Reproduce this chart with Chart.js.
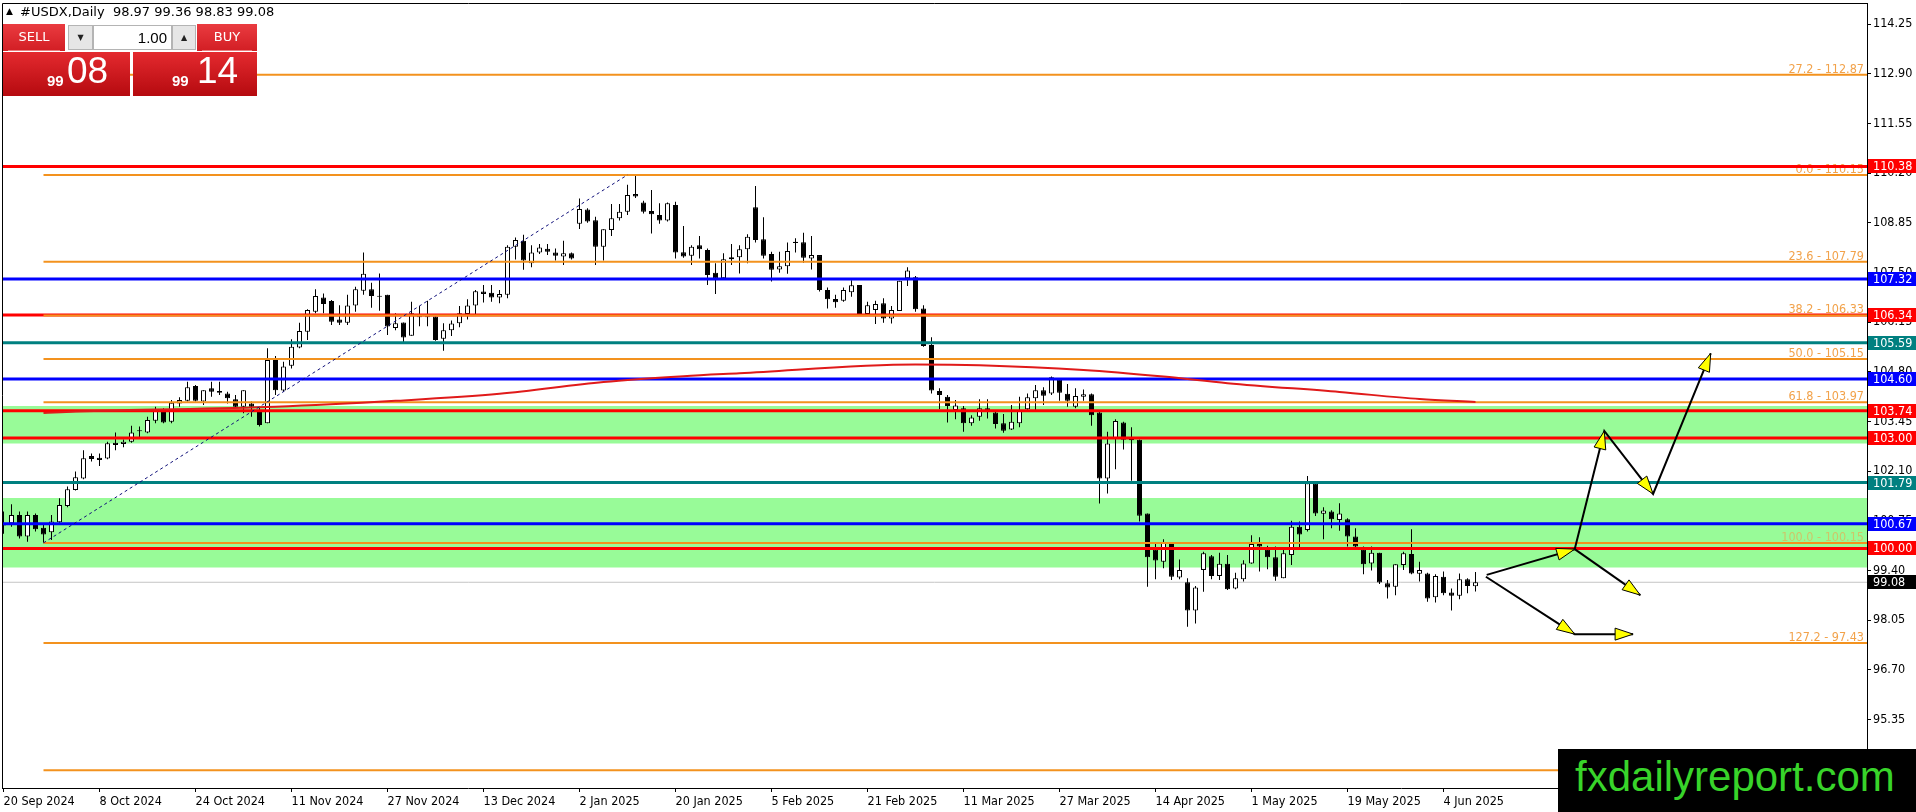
<!DOCTYPE html>
<html>
<head>
<meta charset="utf-8">
<script src="https://cdn.jsdelivr.net/npm/chart.js@4.4.1/dist/chart.umd.min.js"></script>
<style>
html,body{margin:0;padding:0;background:#fff;overflow:hidden;}
#wrap{position:relative;width:1916px;height:812px;}
#wrap canvas{display:block;}
#title{position:absolute;left:6px;top:5px;font:13px/14px "DejaVu Sans";color:#000;white-space:pre;}
#title .tri{font-size:9px;position:relative;top:-2px;margin-right:3px;}
.abs{position:absolute;box-sizing:border-box;}
.redTop{background:linear-gradient(#ea3b40,#d21e24);color:#fff;font:13px "DejaVu Sans";text-align:center;line-height:26px;}
.redTop:after{content:"";position:absolute;left:5px;right:5px;bottom:0;height:1px;background:rgba(255,200,200,0.55);}
.spin{background:#e6e6e6;border:1px solid #b4b4b4;font:8px "DejaVu Sans";color:#222;text-align:center;line-height:23px;}
.big{background:linear-gradient(#e42a2f,#b50a0f);color:#fff;font-family:"Liberation Sans",Arial,sans-serif;}
.big .s{position:absolute;font-size:15px;font-weight:bold;bottom:8px;line-height:15px;}
.big .b{position:absolute;font-size:37px;bottom:7px;line-height:37px;}
#wm{position:absolute;left:1558px;top:749px;width:358px;height:63px;background:#000;}
#wm span{position:absolute;left:17px;top:7px;font:42px/42px "Liberation Sans",Arial,sans-serif;color:#38d42a;white-space:nowrap;}
</style>
</head>
<body>
<div id="wrap">
<canvas id="c"></canvas>
<div id="title"><span class="tri">▲</span> #USDX,Daily  98.97 99.36 98.83 99.08</div>
<div class="abs redTop" style="left:3px;top:24px;width:62px;height:27px;">SELL</div>
<div class="abs spin" style="left:68px;top:25px;width:25px;height:25px;">▼</div>
<div class="abs" style="left:93px;top:25px;width:79px;height:25px;background:#fff;border:1px solid #b4b4b4;font:15px/23px 'Liberation Sans',Arial,sans-serif;text-align:right;padding-right:4px;color:#000;">1.00</div>
<div class="abs spin" style="left:172px;top:25px;width:24px;height:25px;">▲</div>
<div class="abs redTop" style="left:197px;top:24px;width:60px;height:27px;">BUY</div>
<div class="abs big" style="left:3px;top:52px;width:127px;height:44px;"><span class="s" style="left:44px;">99</span><span class="b" style="left:64px;">08</span></div>
<div class="abs big" style="left:133px;top:52px;width:124px;height:44px;"><span class="s" style="left:39px;">99</span><span class="b" style="left:64px;">14</span></div>
<div id="wm"><span>fxdailyreport.com</span></div>
</div>
<script>
// ---------- data ----------
const dateLabels = ['20 Sep 2024','8 Oct 2024','24 Oct 2024','11 Nov 2024','27 Nov 2024','13 Dec 2024','2 Jan 2025','20 Jan 2025','5 Feb 2025','21 Feb 2025','11 Mar 2025','27 Mar 2025','14 Apr 2025','1 May 2025','19 May 2025','4 Jun 2025'];
const dateTickIdx = [0,12,24,36,48,60,72,84,96,108,120,132,144,156,168,180];
const priceTicks = [95.35,96.70,98.05,99.40,100.75,102.10,103.45,104.80,106.15,107.50,108.85,110.20,111.55,112.90,114.25];

const opens = [100.62,100.68,100.91,100.32,100.91,100.56,100.44,100.71,101.15,101.59,
101.90,102.51,102.46,102.44,102.87,102.84,102.90,103.18,103.15,103.47,
103.76,103.44,103.94,104.01,104.41,103.99,104.35,104.28,104.21,104.05,
103.85,103.94,103.76,103.40,105.12,104.29,104.96,105.46,105.89,106.43,
106.82,106.72,106.22,106.13,106.60,107.00,107.04,106.86,106.89,105.99,
106.14,105.78,106.30,106.28,106.30,105.70,105.93,106.12,106.37,106.60,
106.98,106.95,106.82,106.89,108.20,108.36,107.75,108.04,108.14,108.04,
107.93,108.02,108.82,109.21,108.92,108.20,108.65,108.97,109.15,109.63,
109.40,109.17,109.06,108.91,109.33,108.05,107.95,108.24,108.11,107.49,
107.34,107.91,107.91,108.13,109.27,108.40,108.00,107.58,107.67,108.33,
108.32,107.88,107.97,107.02,106.78,106.73,106.96,107.16,106.37,106.48,
106.66,106.25,106.45,107.34,107.37,106.52,105.53,104.28,104.12,103.76,
103.81,103.40,103.58,103.81,103.69,103.40,103.23,103.40,103.78,104.08,
104.30,104.21,104.58,104.20,103.85,104.12,104.19,103.69,101.90,102.99,
103.42,102.99,102.95,100.95,99.97,99.64,100.12,99.21,99.08,98.31,
99.41,99.79,99.25,99.58,98.91,99.16,99.59,100.12,99.96,99.76,
99.19,99.82,100.59,100.50,101.77,100.94,101.00,100.77,100.79,100.32,
99.96,99.59,99.88,99.05,98.96,99.55,99.85,99.31,99.32,98.67,
99.23,98.80,98.71,99.16,98.97];
const highs = [101.00,101.20,101.00,101.00,100.95,100.64,100.91,101.36,101.68,102.09,
102.67,102.58,102.58,102.90,103.15,102.96,103.33,103.31,103.58,103.85,
103.81,104.03,104.11,104.53,104.44,104.30,104.53,104.53,104.26,104.17,
104.30,103.99,103.85,105.44,105.23,105.07,105.68,106.13,106.50,107.04,
106.93,106.75,106.61,106.89,107.11,108.04,107.22,107.47,106.89,106.39,
106.14,106.70,106.59,106.73,106.30,106.12,106.19,106.59,106.77,107.02,
107.16,107.16,107.02,108.24,108.45,108.52,108.24,108.27,108.27,108.15,
108.36,108.04,109.51,109.24,109.01,108.67,109.36,109.36,109.88,110.12,
109.45,109.74,109.38,109.40,109.42,108.76,108.24,108.49,108.15,107.75,
108.02,108.27,108.24,108.54,109.85,109.00,108.06,108.06,108.31,108.43,
108.58,108.49,107.97,107.09,106.89,107.09,107.29,107.16,106.70,106.73,
106.80,106.59,107.27,107.64,107.40,106.61,105.74,104.35,104.17,104.03,
103.87,103.62,104.05,104.05,103.72,103.65,103.90,104.12,104.21,104.44,
104.38,104.67,104.62,104.47,104.35,104.32,104.21,103.72,103.17,103.51,
103.44,103.29,102.96,100.95,100.14,100.25,100.14,99.70,99.19,98.98,
99.91,99.82,99.88,99.82,99.34,99.68,100.36,100.30,100.07,100.05,
99.96,100.75,100.73,101.97,101.77,101.12,101.04,101.23,100.82,100.55,
100.05,100.05,99.88,99.14,99.57,99.91,100.52,99.64,99.34,99.30,
99.37,98.91,99.32,99.19,99.36];
const lows = [100.40,100.59,100.27,100.18,100.46,100.15,100.23,100.68,101.12,101.57,
101.88,102.36,102.24,102.42,102.67,102.75,102.87,103.02,103.13,103.40,
103.40,103.40,103.85,103.99,103.99,103.90,104.12,104.17,103.94,103.81,
103.67,103.58,103.31,103.40,104.17,104.26,104.89,105.44,105.66,106.39,
106.39,106.07,106.07,106.07,106.43,106.89,106.54,106.46,105.80,105.93,
105.60,105.78,106.04,106.04,105.64,105.37,105.77,106.01,106.22,106.37,
106.68,106.70,106.66,106.80,107.85,107.57,107.64,108.00,107.97,107.82,
107.70,107.85,108.68,108.85,107.70,107.82,108.49,108.91,109.06,109.52,
109.10,108.56,108.82,108.88,107.88,107.90,107.70,107.88,107.16,106.91,
107.34,107.70,107.47,107.75,108.31,107.88,107.25,107.49,107.46,108.04,
107.76,107.58,106.98,106.52,106.54,106.70,106.84,106.37,106.34,106.10,
106.13,106.11,106.45,107.13,106.43,105.48,104.21,103.78,103.42,103.51,
103.17,103.33,103.47,103.53,103.26,103.14,103.22,103.29,103.76,103.76,
103.90,104.17,104.01,103.85,103.81,104.01,103.33,101.22,101.49,102.15,
102.69,101.84,100.73,98.96,99.16,99.46,99.14,99.16,97.87,97.96,
98.82,99.16,99.14,98.87,98.89,99.10,99.58,99.37,99.43,99.12,
99.19,99.55,100.03,100.46,100.88,100.25,100.55,100.48,100.05,100.03,
99.30,99.40,99.03,98.64,98.73,99.41,99.30,99.10,98.55,98.53,
98.73,98.31,98.62,98.78,98.83];
const closes = [100.68,100.91,100.32,100.91,100.52,100.38,100.73,101.18,101.61,101.93,
102.45,102.43,102.40,102.86,102.81,102.90,103.15,103.20,103.49,103.76,
103.42,103.96,104.03,104.38,104.01,104.30,104.26,104.23,104.08,103.85,
104.30,103.85,103.35,105.12,104.30,104.94,105.48,105.91,106.48,106.86,
106.64,106.16,106.13,106.60,107.04,107.46,106.86,106.84,106.03,106.12,
105.73,106.39,106.28,106.30,105.66,105.93,106.11,106.39,106.60,106.99,
106.91,106.82,106.91,108.20,108.38,107.82,108.04,108.18,108.06,107.95,
108.02,107.88,109.22,108.88,108.20,108.67,108.97,109.15,109.60,109.56,
109.15,109.08,108.91,109.38,108.04,107.93,108.20,108.13,107.43,107.34,
107.86,107.86,108.13,108.47,108.38,107.95,107.57,107.67,108.08,108.30,
107.90,107.97,107.02,106.77,106.69,107.02,107.15,106.37,106.61,106.64,
106.25,106.48,107.27,107.55,106.50,105.50,104.29,104.17,103.87,103.88,
103.40,103.56,103.81,103.72,103.38,103.20,103.44,103.74,104.11,104.30,
104.15,104.65,104.23,104.01,104.14,104.19,103.62,101.90,102.85,103.46,
102.95,102.94,100.89,99.76,99.67,100.16,99.23,99.41,98.31,98.94,
99.87,99.25,99.58,98.89,99.19,99.59,100.12,100.05,99.76,99.23,
99.87,100.59,100.38,101.77,100.95,101.03,100.79,100.95,100.32,100.05,
99.57,99.88,99.07,98.94,99.57,99.87,99.32,99.41,98.64,99.25,
98.78,98.71,99.16,98.98,99.08];

const lastPrice = 99.08;
const srLevels = [110.38,107.32,106.34,105.59,104.60,103.74,103.00,101.79,100.67,100.00];
const srKinds  = ['red','blue','red','teal','blue','red','red','teal','blue','red'];
const fibNames  = ['27.2','0.0','23.6','38.2','50.0','61.8','100.0','127.2','161.8'];
const fibValues = [112.87,110.15,107.79,106.33,105.15,103.97,100.15,97.43,93.97];
const fibStartBar = 5;
const bandTop    = [103.87,101.37];
const bandBottom = [102.85,99.48];
const maBars   = [5,9,34,49,62,75,85,92,114,122,135,145,153,167,177,184];
const maValues = [103.68,103.72,103.85,104.01,104.20,104.52,104.68,104.76,105.00,104.98,104.85,104.67,104.49,104.25,104.06,103.98];
const trendBars   = [5,78];
const trendValues = [100.15,110.15];
const arrowUpBars   = [185.4,196.4,200.1,206.2,213.4];
const arrowUpValues = [99.28,99.98,103.19,101.48,105.30];
const arrowMidBars   = [196.4,204.6];
const arrowMidValues = [99.98,98.73];
const arrowDownBars   = [185.3,196.4,203.7];
const arrowDownValues = [99.23,97.67,97.67];

// ---------- axis ranges / styles ----------
const X_MIN = -0.1875, X_MAX = 232.9375;
const Y_MIN = 93.489, Y_MAX = 114.8207;
const SR_COLORS = {red:'#FF0000', blue:'#0000FF', teal:'#008080'};
const FIB_LINE = '#F3921E', FIB_TEXT = '#F2A24A';
const FAMILY = '"DejaVu Sans Condensed", "DejaVu Sans"';
const FSIZE = 12.5;

const hline = (v, from) => [{x: from, y: v}, {x: X_MAX, y: v}];
const pts = (xs, ys) => xs.map((x, i) => ({x, y: ys[i]}));

const datasets = [];
bandTop.forEach((t, i) => datasets.push({
  type:'line', label:'band'+i, data: hline(t, X_MIN), borderWidth:0, borderColor:'rgba(0,0,0,0)',
  pointRadius:0, fill:{value: bandBottom[i]}, backgroundColor:'#98FB98', order:100
}));
datasets.push({type:'line', label:'last', data: hline(lastPrice, X_MIN), borderColor:'#C4C4C4', borderWidth:1, pointRadius:0, order:95});
datasets.push({type:'bar', label:'wicks', data: lows.map((l, i) => ({x:i, y:[l, highs[i]]})),
  backgroundColor:'#000', borderWidth:0, barThickness:1, grouped:false, inflateAmount:0, order:90});
datasets.push({type:'bar', label:'bodies', data: opens.map((o, i) => ({x:i, y:[o, closes[i]]})),
  backgroundColor: opens.map((o, i) => closes[i] >= o ? '#FFFFFF' : '#000000'),
  borderColor:'#000', borderWidth:1, borderSkipped:false, barThickness:5, minBarLength:1,
  grouped:false, inflateAmount:0, order:89});
srLevels.forEach((v, i) => datasets.push({type:'line', label:'sr'+i, data: hline(v, X_MIN),
  borderColor: SR_COLORS[srKinds[i]], borderWidth:3, pointRadius:0, order:50}));
fibValues.forEach((v, i) => datasets.push({type:'line', label:'fib'+i, data: hline(v, fibStartBar),
  borderColor: FIB_LINE, borderWidth:2, pointRadius:0, order:40}));
datasets.push({type:'line', label:'ma', data: pts(maBars, maValues), borderColor:'#E01A1A', borderWidth:2,
  pointRadius:0, tension:0.4, cubicInterpolationMode:'monotone', order:35});
datasets.push({type:'line', label:'trend', data: pts(trendBars, trendValues), borderColor:'#10107A', borderWidth:1,
  borderDash:[3,3], pointRadius:0, order:30});
[[arrowUpBars, arrowUpValues], [arrowMidBars, arrowMidValues], [arrowDownBars, arrowDownValues]].forEach((a, i) =>
  datasets.push({type:'line', label:'arrow'+i, data: pts(a[0], a[1]), borderColor:'#000', borderWidth:2, pointRadius:0, order:5 - i}));

function drawFibText(chart) {
  const {ctx, chartArea, scales:{y}} = chart;
  ctx.save();
  ctx.font = FSIZE + 'px ' + FAMILY;
  ctx.textAlign = 'right';
  ctx.textBaseline = 'alphabetic';
  fibValues.forEach((v, i) => {
    const py = y.getPixelForValue(v);
    const inBand = bandTop.some((t, k) => v <= t && v >= bandBottom[k]);
    ctx.globalAlpha = inBand ? 0.6 : 1;
    ctx.fillStyle = FIB_TEXT;
    ctx.fillText(fibNames[i] + ' - ' + v.toFixed(2), chartArea.right - 3, py - 2);
  });
  ctx.restore();
}
function drawArrowHeads(chart) {
  const ctx = chart.ctx;
  chart.data.datasets.forEach((ds, di) => {
    if (!ds.label || ds.label.indexOf('arrow') !== 0) return;
    const p = chart.getDatasetMeta(di).data;
    for (let j = 1; j < p.length; j++) {
      const a = p[j-1], b = p[j];
      const dx = b.x - a.x, dy = b.y - a.y, L = Math.hypot(dx, dy);
      const ux = dx / L, uy = dy / L, len = 18, hw = 6;
      const bx = b.x - ux * len, by = b.y - uy * len;
      ctx.save();
      ctx.beginPath();
      ctx.moveTo(b.x, b.y);
      ctx.lineTo(bx - uy * hw, by + ux * hw);
      ctx.lineTo(bx + uy * hw, by - ux * hw);
      ctx.closePath();
      ctx.fillStyle = '#FFFF00'; ctx.fill();
      ctx.strokeStyle = '#000'; ctx.lineWidth = 1; ctx.stroke();
      ctx.restore();
    }
  });
}
function drawAxisBoxes(chart) {
  const {ctx, chartArea, scales:{y}} = chart;
  ctx.save();
  ctx.font = FSIZE + 'px ' + FAMILY;
  ctx.textAlign = 'left';
  ctx.textBaseline = 'middle';
  const items = srLevels.map((v, i) => ({v, c: SR_COLORS[srKinds[i]]})).concat([{v: lastPrice, c:'#000'}]);
  items.forEach(it => {
    const py = Math.round(y.getPixelForValue(it.v));
    ctx.fillStyle = it.c;
    ctx.fillRect(chartArea.right + 1, py - 7, 48, 14);
    ctx.fillStyle = '#fff';
    ctx.fillText(it.v.toFixed(2), chartArea.right + 6, py + 0.5);
  });
  // frame (left & top)
  ctx.strokeStyle = '#000'; ctx.lineWidth = 1;
  ctx.beginPath();
  ctx.moveTo(chartArea.left + 0.5, chartArea.bottom);
  ctx.lineTo(chartArea.left + 0.5, chartArea.top + 0.5);
  ctx.lineTo(chartArea.right, chartArea.top + 0.5);
  ctx.stroke();
  ctx.restore();
}
const overlay = {
  id:'overlay',
  afterDatasetDraw(chart, args) {
    const ds = chart.data.datasets[args.index];
    if (ds && ds.label === 'bodies') drawFibText(chart);
  },
  afterDatasetsDraw(chart) { drawArrowHeads(chart); },
  afterDraw(chart) { drawAxisBoxes(chart); }
};
const zeroPad = s => { s.paddingLeft = 0; s.paddingRight = 0; s.paddingTop = 0; s.paddingBottom = 0; };

new Chart(document.getElementById('c'), {
  type:'bar',
  data:{datasets},
  plugins:[overlay],
  options:{
    responsive:true, maintainAspectRatio:false, animation:false, devicePixelRatio:1, events:[],
    layout:{padding:{left:2, top:3, right:0, bottom:0}, autoPadding:false},
    plugins:{legend:{display:false}, tooltip:{enabled:false}, filler:{propagate:false, drawTime:'beforeDatasetDraw'}},
    scales:{
      x:{type:'linear', position:'bottom', min:X_MIN, max:X_MAX, offset:false,
        afterBuildTicks: s => { s.ticks = dateTickIdx.map(v => ({value:v})); },
        afterFit: s => { s.height = 24; zeroPad(s); },
        ticks:{autoSkip:false, maxRotation:0, minRotation:0, align:'start', padding:2, color:'#000',
          font:{family:FAMILY, size:FSIZE},
          callback: v => dateLabels[dateTickIdx.indexOf(v)]},
        grid:{drawOnChartArea:false, drawTicks:true, tickLength:4, color:'#000', offset:false},
        border:{display:true, color:'#000', width:1}
      },
      y:{type:'linear', position:'right', min:Y_MIN, max:Y_MAX, beginAtZero:false,
        afterBuildTicks: s => { s.ticks = priceTicks.map(v => ({value:v})); },
        afterFit: s => { s.width = 49; zeroPad(s); },
        ticks:{padding:2, color:'#000', font:{family:FAMILY, size:FSIZE}, callback: v => Number(v).toFixed(2)},
        grid:{drawOnChartArea:false, drawTicks:true, tickLength:4, color:'#000'},
        border:{display:true, color:'#000', width:1}
      }
    }
  }
});
</script>
</body>
</html>
